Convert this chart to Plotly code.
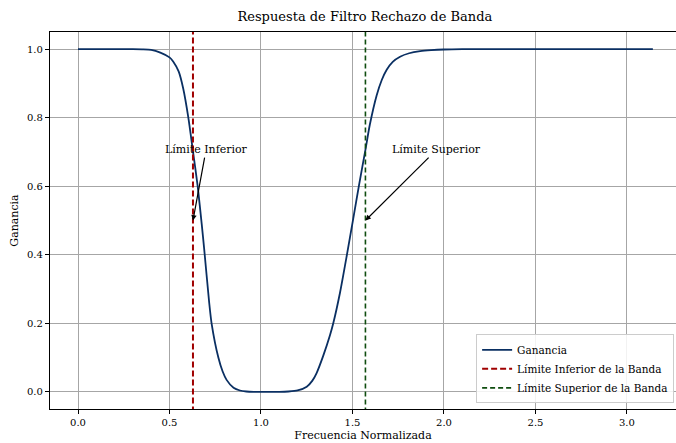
import plotly.graph_objects as go

# Frequency response samples (normalized frequency, gain)
freq = [0.0, 0.10, 0.20, 0.30, 0.35, 0.40, 0.45, 0.50, 0.52, 0.55, 0.575,
        0.603, 0.627, 0.654, 0.676, 0.689, 0.717, 0.730, 0.767, 0.79, 0.812,
        0.85, 0.885, 0.92, 0.96, 1.00, 1.05, 1.10, 1.15, 1.20, 1.25, 1.28,
        1.304, 1.34, 1.377, 1.395, 1.432, 1.468, 1.504, 1.537, 1.571, 1.595,
        1.632, 1.66, 1.687, 1.72, 1.76, 1.81, 1.87, 1.93, 2.0, 2.1, 2.2, 2.5,
        2.8, 3.1416]
gain = [1.0, 1.0, 1.0, 1.0, 0.9995, 0.998, 0.99, 0.976, 0.964, 0.935, 0.885,
        0.80, 0.707, 0.60, 0.49, 0.42, 0.26, 0.20, 0.10, 0.06, 0.035,
        0.012, 0.004, 0.001, 0.0, 0.0, 0.0, 0.0, 0.001, 0.004, 0.015, 0.032,
        0.055, 0.105, 0.165, 0.20, 0.29, 0.395, 0.505, 0.607, 0.707, 0.78,
        0.865, 0.91, 0.94, 0.963, 0.978, 0.988, 0.994, 0.997, 0.999, 1.0,
        1.0, 1.0, 1.0, 1.0]

band_low = 0.6283
band_high = 1.5708

x_ticks = [0.0, 0.5, 1.0, 1.5, 2.0, 2.5, 3.0]
y_ticks = [0.0, 0.2, 0.4, 0.6, 0.8, 1.0]

FONT = "DejaVu Serif"
CURVE = "#0a2f62"
RED = "#a00000"
GREEN = "#0f4d0f"

fig = go.Figure()
fig.add_trace(go.Scatter(x=freq, y=gain, mode="lines", name="Ganancia",
                         line=dict(color=CURVE, width=1.8, shape="spline", smoothing=0.6)))
fig.add_trace(go.Scatter(x=[band_low, band_low], y=[-0.06, 1.06], mode="lines",
                         name="Límite Inferior de la Banda",
                         line=dict(color=RED, width=2, dash="6px,3px")))
fig.add_trace(go.Scatter(x=[band_high, band_high], y=[-0.06, 1.06], mode="lines",
                         name="Límite Superior de la Banda",
                         line=dict(color=GREEN, width=1.6, dash="5px,3px")))

arrow = dict(showarrow=True, arrowhead=2, arrowsize=0.9, arrowwidth=1.2,
             arrowcolor="black", axref="x", ayref="y", xref="x", yref="y",
             font=dict(family=FONT, size=11, color="black"))
fig.add_annotation(x=band_low, y=0.5, ax=0.7, ay=0.707, text="Límite Inferior", **arrow)
fig.add_annotation(x=band_high, y=0.5, ax=1.96, ay=0.707, text="Límite Superior", **arrow)

axis_common = dict(showgrid=True, gridcolor="#a6a6a6", gridwidth=1,
                   zeroline=False, showline=True, linecolor="black", linewidth=1.2,
                   ticks="outside", ticklen=4, tickcolor="black",
                   tickfont=dict(family=FONT, size=10, color="black"))

fig.update_layout(
    width=676, height=443,
    margin=dict(l=50, r=0, t=32, b=34),
    paper_bgcolor="white", plot_bgcolor="white",
    title=dict(text="Respuesta de Filtro Rechazo de Banda", x=0.503, xref="paper",
               xanchor="center", y=0.962, yanchor="middle",
               font=dict(family=FONT, size=13, color="black")),
    xaxis=dict(range=[-0.153, 3.268], tickvals=x_ticks,
               ticktext=[f"{v:.1f}" for v in x_ticks], mirror=True,
               title=dict(text="Frecuencia Normalizada", standoff=4,
                          font=dict(family=FONT, size=11, color="black")),
               **axis_common),
    yaxis=dict(range=[-0.05, 1.05], tickvals=y_ticks,
               ticktext=[f"{v:.1f}" for v in y_ticks],
               title=dict(text="Ganancia", standoff=6,
                          font=dict(family=FONT, size=11, color="black")),
               **axis_common),
    legend=dict(x=0.997, xanchor="right", y=0.015, yanchor="bottom",
                bgcolor="rgba(255,255,255,0.85)", bordercolor="#cccccc", borderwidth=1,
                font=dict(family=FONT, size=10.5, color="black"),
                tracegroupgap=0, itemwidth=30),
    showlegend=True,
)

fig.write_html("out.html")
